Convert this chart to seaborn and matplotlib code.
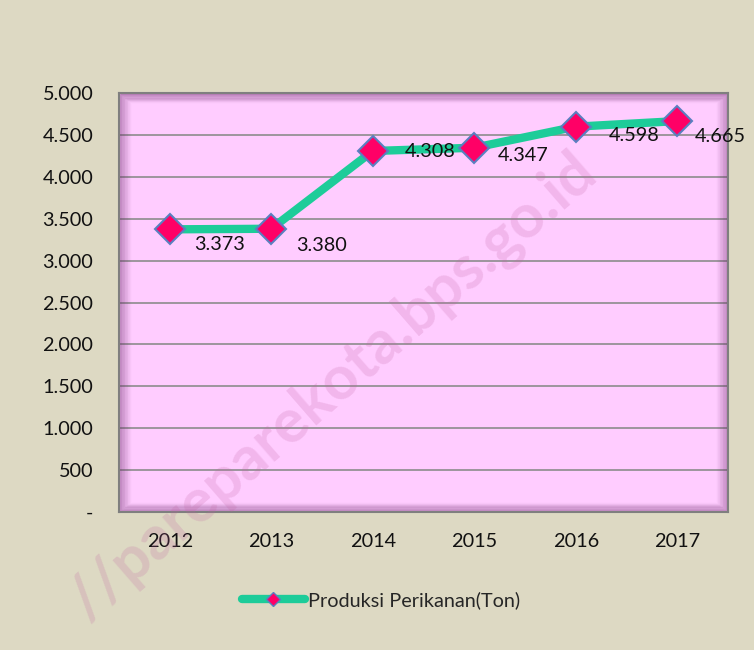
import matplotlib
matplotlib.use("Agg")
import matplotlib.pyplot as plt
import seaborn as sns
import pandas as pd
import numpy as np
from matplotlib.lines import Line2D

years = ["2012", "2013", "2014", "2015", "2016", "2017"]
produksi = [3373, 3380, 4308, 4347, 4598, 4665]
labels = ["3.373", "3.380", "4.308", "4.347", "4.598", "4.665"]
yticks = [0, 500, 1000, 1500, 2000, 2500, 3000, 3500, 4000, 4500, 5000]
ytick_labels = ["-", "500", "1.000", "1.500", "2.000", "2.500", "3.000", "3.500", "4.000", "4.500", "5.000"]
series_name = "Produksi Perikanan(Ton)"

# label offsets in pixels (dx right, dy down) - styling only
label_dx = [24, 25, 32, 24, 33, 18]
label_dy = [15, 17, 1, 8, 9, 15]

df = pd.DataFrame({"Tahun": years, "Nilai": produksi})

sns.set_theme(style="white")
plt.rcParams["font.family"] = ["Lato", "DejaVu Sans"]

FS = 14.3
bg = "#DDD9C3"
fig = plt.figure(figsize=(7.54, 6.5), dpi=100, facecolor=bg)
ax = fig.add_axes([119/754, 1-512/650, (728-119)/754, (512-93)/650])
ax.set_facecolor("#FFCCFF")

line_c = "#1DCC99"
mk_c = "#FF0066"
edge_c = "#5A7FC0"

sns.lineplot(data=df, x="Tahun", y="Nilai", ax=ax, color=line_c, linewidth=6,
             marker="D", markersize=15, markerfacecolor=mk_c, markeredgecolor=edge_c,
             markeredgewidth=1.5, sort=False, zorder=3)

for i, (v, lab) in enumerate(zip(produksi, labels)):
    ax.annotate(lab, (i, v), xytext=(label_dx[i], -label_dy[i]), textcoords="offset pixels",
                fontsize=FS, color="#111111", ha="left", va="center", zorder=4,
                annotation_clip=False)

ax.set_xlim(-0.5, 5.5)
ax.set_ylim(0, 5000)
ax.set_yticks(yticks)
ax.set_yticklabels(ytick_labels)
ax.set_xlabel("")
ax.set_ylabel("")
ax.tick_params(axis="both", labelsize=FS, colors="#111111", length=0)
ax.tick_params(axis="x", pad=15)
ax.tick_params(axis="y", pad=18.5)
ax.grid(axis="y", color="#8C8C8C", linewidth=1.2)
ax.set_axisbelow(True)
for s in ax.spines.values():
    s.set_color("#7F7F7F")
    s.set_linewidth(1.5)

# inner shadow of plot area
for k, a in enumerate(np.linspace(0.22, 0.0, 9)):
    inset = k * 0.004
    r = plt.Rectangle((inset * 0.6, inset * 0.7), 1 - 1.2 * inset, 1 - 1.4 * inset,
                      transform=ax.transAxes, fill=False, edgecolor="#6A2A6A",
                      alpha=a, linewidth=2.5, zorder=1)
    ax.add_patch(r)

# watermark
fig.text(0.44, 0.405, "//pareparekota.bps.go.id", rotation=41, fontsize=44, fontweight="bold",
         color="#C060A0", alpha=0.2, ha="center", va="center", zorder=10)

handle = Line2D([0], [0], color=line_c, linewidth=6, marker="D", markersize=7,
                markerfacecolor=mk_c, markeredgecolor=edge_c, solid_capstyle="round")
fig.legend([handle], [series_name], loc="center", bbox_to_anchor=(381/754, 1-600/650),
           frameon=False, fontsize=FS, handlelength=3.2, handletextpad=0.15)

fig.savefig("out.png", dpi=100, facecolor=bg)
